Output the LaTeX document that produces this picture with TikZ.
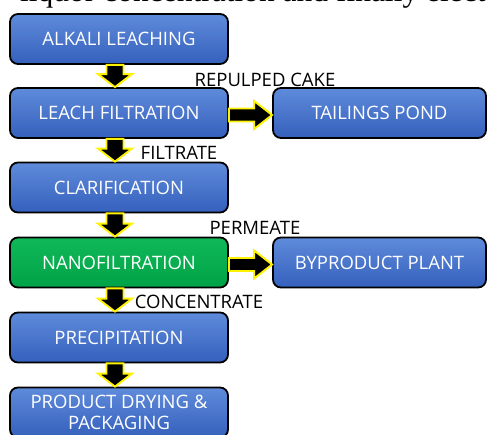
\documentclass[tikz,border=0pt]{standalone}
\usepackage{fontspec}
\setmainfont{Liberation Serif}
\newfontfamily\boxfont{Open Sans}
\usetikzlibrary{calc}
\definecolor{bluetop}{HTML}{5F8BDB}
\definecolor{bluebot}{HTML}{3560BC}
\definecolor{greentop}{HTML}{10B858}
\definecolor{greenbot}{HTML}{00A347}
\definecolor{arrowyel}{HTML}{FFF200}
\tikzset{
  stepbox/.style={draw=black, line width=1.8pt, rounded corners=8pt,
    minimum width=218pt, minimum height=50pt, inner sep=0pt,
    top color=bluetop, bottom color=bluebot, text=white,
    font=\boxfont\fontsize{18.5}{21}\selectfont, align=center},
  sidebox/.style={stepbox, minimum width=213pt},
  greenbox/.style={top color=greentop, bottom color=greenbot},
  blockarrow/.style={fill=black, draw=arrowyel, line width=1.9pt, line join=miter},
  flowlabel/.style={text=black, font=\boxfont\fontsize{18.5}{21}\selectfont, inner sep=0pt}
}
\newcommand{\blockdown}[2]{%
  \path[blockarrow] ($(#1.south)+(-12.5,0)$) -- ($(#1.south)+(4.5,0)$) -- ($(#2.north)+(4.5,13)$)
   -- ($(#2.north)+(13,13)$) -- ($(#2.north)+(-4,0)$) -- ($(#2.north)+(-21,13)$)
   -- ($(#2.north)+(-12.5,13)$) -- cycle;}
\newcommand{\blockright}[2]{%
  \path[blockarrow] ($(#1.east)+(0,4.5)$) -- ($(#2.west)+(-18,4.5)$) -- ($(#2.west)+(-18,12)$)
   -- ($(#2.west)+(0,-2)$) -- ($(#2.west)+(-18,-16)$) -- ($(#2.west)+(-18,-8.5)$)
   -- ($(#1.east)+(0,-8.5)$) -- cycle;}
\begin{document}
\begin{tikzpicture}[x=1pt,y=1pt]
\useasboundingbox (0,0) rectangle (488,435);
\clip (0,0) rectangle (488,435);
\node[anchor=base west, font=\fontsize{31.5}{34}\selectfont, inner sep=0pt] (top) at (20,433) {liquor concentration and finally elect};
\node[stepbox] (alk) at (119,396) {ALKALI LEACHING};
\node[stepbox] (lf) at (119,322) {LEACH FILTRATION};
\node[sidebox] (tp) at (379.5,322) {TAILINGS POND};
\node[stepbox] (cl) at (119,247.5) {CLARIFICATION};
\node[stepbox, greenbox] (nf) at (119,172.5) {NANOFILTRATION};
\node[sidebox] (bp) at (379.5,172.5) {BYPRODUCT PLANT};
\node[stepbox] (pr) at (119,97.5) {PRECIPITATION};
\node[stepbox] (pd) at (119,22.5) {PRODUCT DRYING \&\\PACKAGING};
\blockdown{alk}{lf}
\blockright{lf}{tp}
\blockdown{lf}{cl}
\blockdown{cl}{nf}
\blockright{nf}{bp}
\blockdown{nf}{pr}
\blockdown{pr}{pd}
\node[flowlabel] (l1) at (265,355) {REPULPED CAKE};
\node[flowlabel] (l2) at (179,282) {FILTRATE};
\node[flowlabel] (l3) at (255,207) {PERMEATE};
\node[flowlabel] (l4) at (199,133) {CONCENTRATE};
\end{tikzpicture}
\end{document}
